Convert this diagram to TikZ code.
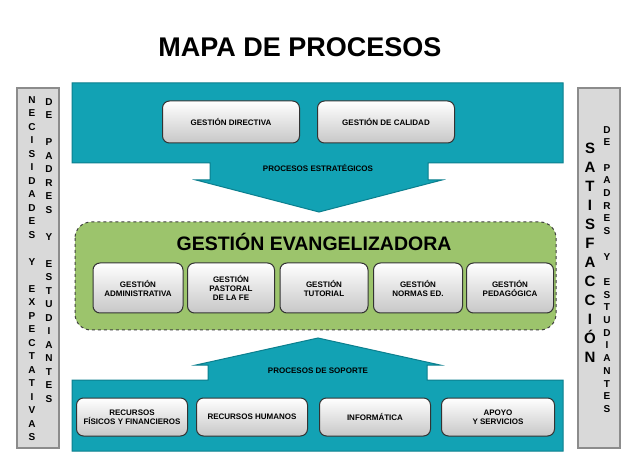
\documentclass[tikz,border=0pt]{standalone}
\usepackage{fontspec}
\setmainfont{Liberation Sans}
\definecolor{teal1}{HTML}{12A2B4}
\definecolor{teal2}{HTML}{0B7F8E}
\definecolor{grn}{HTML}{9CC46C}
\definecolor{bargray}{HTML}{D9D9D9}
\tikzset{
  pbox/.style={draw=black!80,line width=1pt,rounded corners=7pt,top color=white,bottom color=black!22,
    font=\fontsize{8}{9}\selectfont\bfseries,align=center,inner sep=0pt},
  teal/.style={fill=teal1,draw=teal2,line width=1pt},
  sidebar/.style={fill=bargray,draw=black!45,line width=1.5pt},
  vtxt/.style={font=\fontsize{10}{13.5}\selectfont\bfseries,align=center,inner sep=0pt,anchor=north},
}
\begin{document}
\begin{tikzpicture}[x=1pt,y=-1pt]
\useasboundingbox (0,0) rectangle (640,462);
\fill[white] (0,0) rectangle (640,462);
% title
\node (title) at (300,47) {\fontsize{27}{29}\selectfont\bfseries MAPA DE PROCESOS};
% side bars
\draw[sidebar] (17,88) rectangle (59,448);
\draw[sidebar] (578,88) rectangle (620,448);
\node[vtxt] (l1) at (32,96) {N\\E\\C\\I\\S\\I\\D\\A\\D\\E\\S\\~\\Y\\~\\E\\X\\P\\E\\C\\T\\A\\T\\I\\V\\A\\S};
\node[vtxt] (l2) at (49,98) {D\\E\\~\\P\\A\\D\\R\\E\\S\\~\\Y\\~\\E\\S\\T\\U\\D\\I\\A\\N\\T\\E\\S};
\node[vtxt,font=\fontsize{15}{19}\selectfont\bfseries] (r1) at (590,143) {S\\A\\T\\I\\S\\F\\A\\C\\C\\I\\Ó\\N};
\node[vtxt,font=\fontsize{10}{12.7}\selectfont\bfseries] (r2) at (607,126) {D\\E\\~\\P\\A\\D\\R\\E\\S\\~\\Y\\~\\E\\S\\T\\U\\D\\I\\A\\N\\T\\E\\S};
% top teal arrow
\draw[teal] (72,83) -- (563,83) -- (563,163) -- (428,163) -- (428,180) -- (442,180) -- (319,212) -- (196,180) -- (210,180) -- (210,163) -- (72,163) -- cycle;
\node[pbox,minimum width=137pt,minimum height=42pt] (gd) at (231,122) {GESTIÓN DIRECTIVA};
\node[pbox,minimum width=137pt,minimum height=42pt] (gc) at (386,122) {GESTIÓN DE CALIDAD};
\node[font=\fontsize{8}{9}\selectfont\bfseries] (pe) at (318,168) {PROCESOS ESTRATÉGICOS};
% bottom teal arrow
\draw[teal] (72,451) -- (563,451) -- (563,380) -- (427,380) -- (427,365) -- (440,365) -- (318,338) -- (196,365) -- (208,365) -- (208,380) -- (72,380) -- cycle;
\node[font=\fontsize{8}{9}\selectfont\bfseries] (ps) at (318,371) {PROCESOS DE SOPORTE};
\node[pbox,minimum width=111pt,minimum height=38pt] (b1) at (132,417) {RECURSOS\\FÍSICOS Y FINANCIEROS};
\node[pbox,minimum width=111pt,minimum height=38pt] (b2) at (252,417) {RECURSOS HUMANOS};
\node[pbox,minimum width=111pt,minimum height=38pt] (b3) at (375,417) {INFORMÁTICA};
\node[pbox,minimum width=113pt,minimum height=38pt] (b4) at (498,417) {APOYO\\Y SERVICIOS};
% green
\draw[fill=grn,draw=black!75,dashed,line width=1pt,rounded corners=16pt] (75,222) rectangle (556,330);
\node[font=\fontsize{19.5}{21}\selectfont\bfseries] (ge) at (314,242) {GESTIÓN EVANGELIZADORA};
\node[pbox,minimum width=90pt,minimum height=50pt] (g1) at (138,288) {GESTIÓN\\ADMINISTRATIVA};
\node[pbox,minimum width=87pt,minimum height=50pt] (g2) at (231,288) {GESTIÓN\\PASTORAL\\DE LA FE};
\node[pbox,minimum width=88pt,minimum height=50pt] (g3) at (324,288) {GESTIÓN\\TUTORIAL};
\node[pbox,minimum width=89pt,minimum height=50pt] (g4) at (418,288) {GESTIÓN\\NORMAS ED.};
\node[pbox,minimum width=87pt,minimum height=50pt] (g5) at (510,288) {GESTIÓN\\PEDAGÓGICA};
\end{tikzpicture}
\end{document}
